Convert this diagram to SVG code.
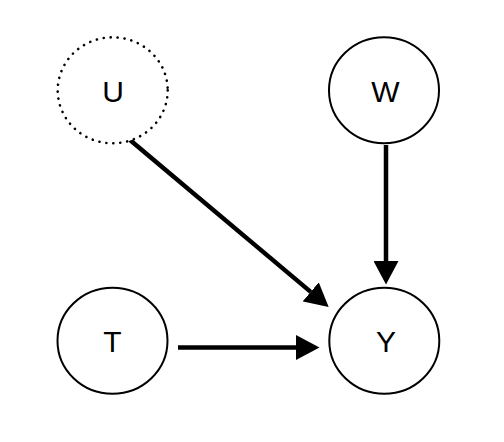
<svg xmlns="http://www.w3.org/2000/svg" width="504" height="442" viewBox="0 0 504 442">
  <style>
    .node { fill: #ffffff; stroke: #000000; stroke-width: 2; }
    .latent { stroke-width: 2.6; stroke-dasharray: 0.1 6.9; stroke-linecap: round; }
    .label { font-family: "Liberation Sans", Arial, sans-serif; font-size: 30px; fill: #000000; text-anchor: middle; }
    .edge { stroke: #000000; stroke-width: 4.5; fill: none; marker-end: url(#arrow); }
  </style>
  <defs>
    <marker id="arrow" markerUnits="userSpaceOnUse" markerWidth="24" markerHeight="25" refX="0" refY="12.5" orient="auto" viewBox="0 0 24 25">
      <path d="M0,0 L23.5,12.5 L0,25 Z" fill="#000000"/>
    </marker>
  </defs>
  <rect x="0" y="0" width="504" height="442" fill="#ffffff"/>
  <g id="connectors">
    <line class="edge" x1="130" y1="140" x2="310.7" y2="291.9"/>
    <line class="edge" x1="386" y1="145" x2="386" y2="261"/>
    <line class="edge" x1="178" y1="347.5" x2="296" y2="347.5"/>
  </g>
  <g id="node-U">
    <ellipse class="node latent" cx="112.7" cy="90.3" rx="55" ry="53"/>
    <text class="label" x="113" y="102">U</text>
  </g>
  <g id="node-W">
    <ellipse class="node" cx="384" cy="90.3" rx="55" ry="53"/>
    <text class="label" x="385.5" y="102">W</text>
  </g>
  <g id="node-T">
    <ellipse class="node" cx="112.5" cy="340.7" rx="55" ry="53"/>
    <text class="label" x="112.5" y="352">T</text>
  </g>
  <g id="node-Y">
    <ellipse class="node" cx="384.3" cy="340.7" rx="55" ry="53"/>
    <text class="label" x="386" y="352">Y</text>
  </g>
</svg>
